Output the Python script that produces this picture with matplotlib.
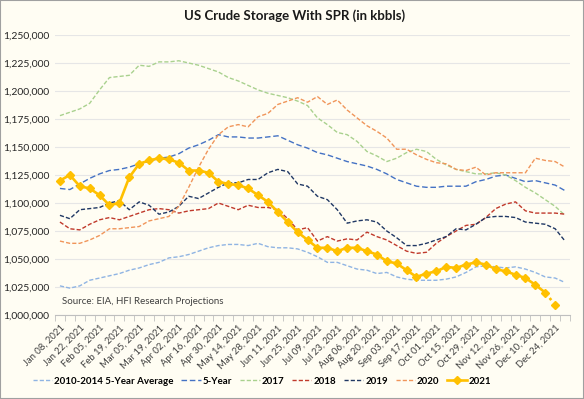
import numpy as np
import matplotlib.pyplot as plt
from matplotlib.lines import Line2D
from matplotlib.patches import Rectangle
from matplotlib.ticker import FuncFormatter

plt.rcParams['font.family'] = ['Lato', 'DejaVu Sans']

# week labels shown on the axis (every second week)
tick_labels = ['Jan 08, 2021', 'Jan 22, 2021', 'Feb 05, 2021', 'Feb 19, 2021', 'Mar 05, 2021',
               'Mar 19, 2021', 'Apr 02, 2021', 'Apr 16, 2021', 'Apr 30, 2021', 'May 14, 2021',
               'May 28, 2021', 'Jun 11, 2021', 'Jun 25, 2021', 'Jul 09, 2021', 'Jul 23, 2021',
               'Aug 06, 2021', 'Aug 20, 2021', 'Sep 03, 2021', 'Sep 17, 2021', 'Oct 01, 2021',
               'Oct 15, 2021', 'Oct 29, 2021', 'Nov 12, 2021', 'Nov 26, 2021', 'Dec 10, 2021',
               'Dec 24, 2021']

# storage in thousands of kbbls, one value per week
avg_1014 = [1026, 1024, 1026, 1031, 1033, 1035, 1037, 1040, 1042, 1045, 1047, 1051, 1052,
            1054, 1057, 1060, 1062, 1063, 1063, 1062, 1064, 1061, 1060, 1060, 1059, 1056,
            1052, 1047, 1047, 1044, 1041, 1040, 1037, 1038, 1034, 1032, 1031, 1031, 1031,
            1032, 1034, 1038, 1043, 1044, 1043, 1042, 1043, 1041, 1038, 1034, 1033, 1029]
five_year = [1113, 1112, 1117, 1122, 1126, 1129, 1130, 1132, 1135, 1137, 1140, 1141, 1144,
             1149, 1152, 1156, 1161, 1159, 1159, 1158, 1158, 1159, 1160, 1156, 1152, 1149,
             1145, 1143, 1140, 1137, 1135, 1133, 1130, 1126, 1121, 1118, 1115, 1114, 1114,
             1115, 1115, 1115, 1119, 1121, 1124, 1125, 1122, 1119, 1120, 1118, 1116, 1111]
y2017 = [1178, 1181, 1184, 1189, 1201, 1212, 1213, 1214, 1223, 1222, 1226, 1226, 1227,
         1225, 1223, 1220, 1217, 1212, 1209, 1205, 1201, 1198, 1196, 1194, 1191, 1187,
         1176, 1170, 1163, 1161, 1155, 1146, 1142, 1137, 1140, 1145, 1148, 1146, 1139,
         1134, 1130, 1128, 1126, 1126, 1127, 1125, 1120, 1114, 1109, 1103, 1097, 1089]
y2018 = [1083, 1077, 1076, 1081, 1085, 1087, 1085, 1088, 1091, 1094, 1095, 1094, 1091,
         1093, 1094, 1095, 1100, 1097, 1094, 1098, 1096, 1096, 1094, 1086, 1076, 1078,
         1066, 1070, 1066, 1068, 1067, 1074, 1070, 1067, 1062, 1057, 1055, 1056, 1064,
         1070, 1075, 1080, 1081, 1087, 1095, 1099, 1101, 1093, 1091, 1091, 1091, 1090]
y2019 = [1089, 1086, 1094, 1095, 1096, 1100, 1102, 1094, 1101, 1098, 1090, 1092, 1097,
         1106, 1104, 1109, 1114, 1118, 1118, 1121, 1121, 1127, 1130, 1128, 1117, 1115,
         1106, 1103, 1094, 1082, 1084, 1085, 1083, 1075, 1069, 1062, 1062, 1064, 1067,
         1070, 1077, 1076, 1081, 1087, 1088, 1088, 1087, 1083, 1082, 1081, 1077, 1066]
y2020 = [1066, 1064, 1064, 1067, 1071, 1077, 1077, 1078, 1079, 1084, 1086, 1088, 1097,
         1114, 1132, 1148, 1161, 1168, 1170, 1168, 1177, 1180, 1188, 1191, 1194, 1190,
         1195, 1188, 1192, 1183, 1176, 1169, 1164, 1158, 1148, 1148, 1143, 1139, 1136,
         1135, 1130, 1129, 1132, 1125, 1127, 1127, 1127, 1127, 1140, 1138, 1137, 1132]
y2021 = [1120, 1125, 1115, 1113, 1107, 1098, 1100, 1123, 1135, 1138, 1140, 1139, 1136,
         1129, 1129, 1127, 1119, 1117, 1116, 1113, 1107, 1101, 1092, 1083, 1074, 1067,
         1060, 1060, 1057, 1060, 1060, 1057, 1054, 1048, 1046, 1040, 1034, 1037, 1039,
         1043, 1042, 1045, 1047, 1045, 1041, 1039, 1036, 1033, 1027, 1020, 1009]

bg = '#FFFDF3'
fig = plt.figure(figsize=(5.84, 3.99), dpi=100, facecolor=bg)
ax = fig.add_axes([55/584, 1 - 315/399, 515/584, 280/399])
ax.set_facecolor(bg)

x = np.arange(len(avg_1014))
lines = [('2010-2014 5-Year Average', avg_1014, '#8FB4E3', (3, 1.5)),
         ('5-Year', five_year, '#4472C4', (4, 2)),
         ('2017', y2017, '#A9D18E', (3, 1.5)),
         ('2018', y2018, '#C0392B', (3, 1.5)),
         ('2019', y2019, '#203864', (3, 1.5)),
         ('2020', y2020, '#F0955A', (3, 1.5))]
handles = []
for lab, vals, col, dsh in lines:
    ax.plot(x, vals, color=col, lw=1.0, dashes=dsh, zorder=3)
    handles.append(Line2D([], [], color=col, lw=1.0, dashes=dsh, label=lab))

gold = '#FFC000'
n = len(y2021)
ax.plot(x[:n-1], y2021[:n-1], color=gold, lw=1.9, marker='D', ms=4, zorder=4)
ax.plot(x[n-2:n], y2021[n-2:], color=gold, lw=1.9, ls=':', zorder=4)
ax.plot(x[n-1:n], y2021[n-1:], color=gold, marker='D', ms=4, ls='none', zorder=4)
handles.append(Line2D([], [], color=gold, lw=1.9, marker='D', ms=4, label='2021'))

ax.set_xlim(-0.5, len(x) - 0.5)
ax.set_ylim(1000, 1250)
ax.set_yticks(np.arange(1000, 1251, 25))
ax.yaxis.set_major_formatter(FuncFormatter(lambda v, p: '{:,}'.format(int(round(v * 1000)))))
ax.grid(axis='y', color='#E6E6E6', lw=0.8, zorder=0)
ax.set_axisbelow(True)
for s in ['top', 'right', 'left']:
    ax.spines[s].set_visible(False)
ax.spines['bottom'].set_color('#BFBFBF')
ax.tick_params(axis='y', length=0, labelsize=7.5, labelcolor='#262626', pad=4)

ax.set_xticks(x[::2])
ax.set_xticklabels(tick_labels, rotation=45, ha='right', rotation_mode='anchor',
                   fontsize=6.8, color='#404040')
ax.set_xticks(np.arange(-0.5, len(x), 1), minor=True)
ax.tick_params(axis='x', which='major', length=0, pad=6)
ax.tick_params(axis='x', which='minor', length=4, color='#BFBFBF')

fig.text(0.505, 1 - 16/399, 'US Crude Storage With SPR (in kbbls)', ha='center', va='center',
         fontsize=9.5, weight='bold', color='#1A1A1A')
fig.text(62/584, 1 - 302/399, 'Source: EIA, HFI Research Projections', ha='left', va='center',
         fontsize=7, color='#404040')

fig.legend(handles=handles, loc='center', bbox_to_anchor=(262/584, 1 - 381/399), ncol=7,
           frameon=False, prop={'size': 7, 'weight': 'bold'}, handlelength=2.0,
           handletextpad=0.2, columnspacing=0.8)

fig.add_artist(Rectangle((0, 0), 1, 1, transform=fig.transFigure, fill=False,
                         edgecolor='#A0A0A0', lw=1.5))

fig.savefig('out.png', dpi=100, facecolor=bg)
